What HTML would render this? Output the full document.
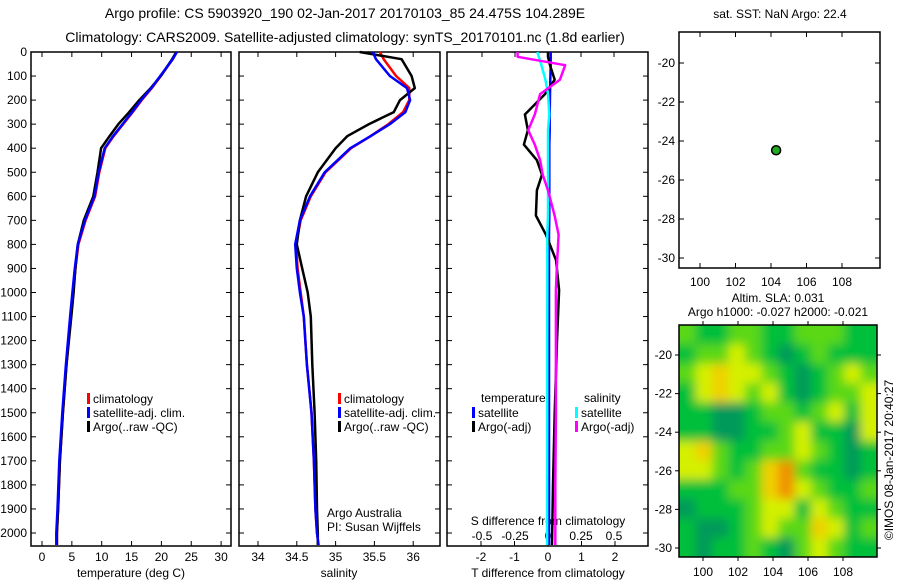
<!DOCTYPE html>
<html><head><meta charset="utf-8">
<style>
body{margin:0;background:#fff;}
svg text{font-family:"Liberation Sans",sans-serif;font-size:12px;fill:#000;}
</style></head>
<body>
<svg id="c" width="900" height="580" xmlns="http://www.w3.org/2000/svg">
<defs><filter id="bl" x="0" y="0" width="1" height="1"><feGaussianBlur stdDeviation="5"/></filter>
<clipPath id="mc"><rect x="679" y="325" width="198" height="232"/></clipPath></defs>
<text x="345" y="18" text-anchor="middle" style="font-size:14px">Argo profile: CS 5903920_190 02-Jan-2017 20170103_85 24.475S 104.289E</text>
<text x="345" y="42" text-anchor="middle" style="font-size:14px">Climatology: CARS2009. Satellite-adjusted climatology: synTS_20170101.nc (1.8d earlier)</text>
</svg>
<script>
const depth=[0,30,100,150,200,250,300,350,400,500,600,700,800,900,1000,1100,1300,1500,1700,1900,2000,2050];
const tempClim=[22.5,21.9,19.9,18.4,16.7,15.2,13.6,12.0,10.6,9.6,8.9,7.3,6.1,5.6,5.2,4.8,4.1,3.5,3.0,2.7,2.5,2.5];
const tempSat=[22.6,21.9,19.8,18.3,16.6,15.1,13.5,11.9,10.5,9.5,8.8,7.2,6.0,5.5,5.1,4.7,4.0,3.4,2.9,2.6,2.4,2.4];
const tempArgo=[22.5,21.8,19.9,18.2,16.3,14.6,12.8,11.3,9.9,9.3,8.6,7.0,6.0,5.6,5.3,4.9,4.1,3.5,3.0,2.7,2.5,2.5];
const salClim=[35.57,35.62,35.78,35.95,35.95,35.87,35.68,35.45,35.2,34.87,34.68,34.55,34.49,34.51,34.55,34.59,34.63,34.69,34.72,34.74,34.76,34.78];
const salSat=[35.48,35.52,35.7,35.92,35.96,35.9,35.7,35.45,35.19,34.86,34.67,34.54,34.48,34.5,34.54,34.59,34.63,34.69,34.72,34.74,34.76,34.78];
const salArgo=[35.31,35.85,35.98,36.02,35.83,35.75,35.43,35.15,35.0,34.77,34.62,34.54,34.5,34.57,34.64,34.68,34.7,34.73,34.75,34.76,34.77,34.77];
const diffDepth=[0,20,55,115,175,260,325,385,450,510,575,680,760,865,990,1200,1500,1800,2050];
const tDiffArgo=[0,0,0.06,0.2,-0.09,-0.69,-0.6,-0.72,-0.33,-0.18,-0.33,-0.36,-0.06,0.24,0.33,0.27,0.2,0.15,0.12];
const tDiffSat=[0.08,0.08,0.08,0.07,0.06,0.05,0.05,0.04,0.04,0.04,0.04,0.04,0.03,0.03,0.03,0.03,0.03,0.03,0.03];
const sDiffArgo=[-0.23,-0.23,0.13,0.09,-0.06,-0.1,-0.15,-0.1,-0.06,-0.04,0,0.05,0.08,0.07,0.06,0.06,0.06,0.055,0.055];
const sDiffSat=[-0.08,-0.07,-0.05,-0.02,0,0.01,0.0,0,0,0,0,0,-0.005,-0.005,-0.005,-0.006,-0.006,-0.007,-0.007];
const depthTicks=[0,100,200,300,400,500,600,700,800,900,1000,1100,1200,1300,1400,1500,1600,1700,1800,1900,2000];
const tempTicks=[0,5,10,15,20,25,30];
const salTicks=[34,34.5,35,35.5,36];
const tDiffTicks=[-2,-1,0,1,2];
const tDiffLabels=[-2,-1,0,1,2];
const sDiffTicks=[-0.5,-0.25,0,0.25,0.5];
const lonTicks=[100,102,104,106,108];
const latTicks=[-20,-22,-24,-26,-28,-30];
const argoLon=104.289, argoLat=-24.475;
const slaGrid=[
[1,0,0,1,1,0,0,1,1,1,0,0],
[0,1,1,2,1,0,-1,0,1,0,0,0],
[1,2,3,2,2,1,0,-1,0,1,2,1],
[0,2,3,2,1,2,0,-1,0,1,1,2],
[0,0,-1,-1,0,1,1,0,1,2,0,2],
[0,0,-1,-1,0,0,1,2,0,0,-1,2],
[2,3,1,0,0,1,1,2,1,0,-1,0],
[2,2,1,0,1,3,4,1,0,0,-1,0],
[0,0,0,1,1,3,4,2,1,0,0,1],
[-1,0,0,0,1,2,2,0,2,1,0,0],
[0,-1,-1,0,1,2,1,1,3,2,0,1],
[0,-1,0,0,1,0,-1,1,2,1,0,0]];
const svg=document.getElementById('c');
const NS='http://www.w3.org/2000/svg';
function el(t,a,p){const e=document.createElementNS(NS,t);for(const k in a)e.setAttribute(k,a[k]);(p||svg).appendChild(e);return e;}
function txt(x,y,s,anchor,p){const e=el('text',{x:x,y:y,'text-anchor':anchor||'start'},p);e.textContent=s;return e;}
const yD=d=>52+d*0.2405;
const xT=v=>42+v*5.97, xS=v=>258+(v-34)*77.6, xTd=v=>548+v*33.5, xSd=v=>548+v*132;
function frame(x,w,name){const r=el('rect',{x:x,y:52,width:w,height:494,fill:'none',stroke:'#000','stroke-width':1.5});}
function line(xs,ys,fx,col,w,name){const pts=xs.map((v,i)=>fx(v).toFixed(1)+','+yD(ys[i]).toFixed(1)).join(' ');const p=el('polyline',{points:pts,fill:'none',stroke:col,'stroke-width':w,'stroke-linejoin':'round'});}
depthTicks.forEach(d=>{const t=txt(27,yD(d)+4,String(d),'end');
[[31,231],[239,440],[447,648]].forEach(([a,b])=>{el('line',{x1:a,x2:a+5,y1:yD(d),y2:yD(d),stroke:'#000'});el('line',{x1:b,x2:b-5,y1:yD(d),y2:yD(d),stroke:'#000'});});});
frame(31,200,'temperature-panel');frame(239,201,'salinity-panel');frame(447,201,'difference-panel');
tempTicks.forEach(v=>{el('line',{x1:xT(v),x2:xT(v),y1:546,y2:541,stroke:'#000'});el('line',{x1:xT(v),x2:xT(v),y1:52,y2:57,stroke:'#000'});const t=txt(xT(v),561,String(v),'middle');});
salTicks.forEach(v=>{el('line',{x1:xS(v),x2:xS(v),y1:546,y2:541,stroke:'#000'});el('line',{x1:xS(v),x2:xS(v),y1:52,y2:57,stroke:'#000'});const t=txt(xS(v),561,String(v),'middle');});
tDiffTicks.forEach((v,i)=>{el('line',{x1:xTd(v),x2:xTd(v),y1:546,y2:541,stroke:'#000'});const t=txt(xTd(v),561,String(tDiffLabels[i]),'middle');});
sDiffTicks.forEach(v=>{el('line',{x1:xSd(v),x2:xSd(v),y1:52,y2:57,stroke:'#000'});const t=txt(xSd(v),540,String(v),'middle');});
let t;
t=txt(131,577,'temperature (deg C)','middle');
t=txt(339,577,'salinity','middle');
t=txt(548,577,'T difference from climatology','middle');
t=txt(548,525,'S difference from climatology','middle');
line(tempClim,depth,xT,'#f00',2.5,'temp-climatology-line');
line(tempArgo,depth,xT,'#000',2.5,'temp-argo-line');
line(tempSat,depth,xT,'#00f',2.5,'temp-satellite-line');
line(salClim,depth,xS,'#f00',2.5,'sal-climatology-line');
line(salArgo,depth,xS,'#000',2.5,'sal-argo-line');
line(salSat,depth,xS,'#00f',2.5,'sal-satellite-line');
line(tDiffSat,diffDepth,xTd,'#00f',2.5,'tdiff-satellite-line');
line(tDiffArgo,diffDepth,xTd,'#000',2.5,'tdiff-argo-line');
line(sDiffSat,diffDepth,xSd,'#0ff',2.5,'sdiff-satellite-line');
line(sDiffArgo,diffDepth,xSd,'#f0f',2.5,'sdiff-argo-line');
function leg(x,y,col,s,name){const g=el('g',{});el('rect',{x:x,y:y-10,width:3,height:11,fill:col},g);txt(x+6,y,s,'start',g);}
leg(87,403,'#f00','climatology','temp-legend-climatology');leg(87,417,'#00f','satellite-adj. clim.','temp-legend-satellite');leg(87,431,'#000','Argo(..raw -QC)','temp-legend-argo');
leg(338,403,'#f00','climatology','sal-legend-climatology');leg(338,417,'#00f','satellite-adj. clim.','sal-legend-satellite');leg(338,431,'#000','Argo(..raw -QC)','sal-legend-argo');
t=txt(481,402,'temperature');
t=txt(584,402,'salinity');
leg(472,417,'#00f','satellite','diff-legend-t-satellite');leg(472,431,'#000','Argo(-adj)','diff-legend-t-argo');
leg(575,417,'#0ff','satellite','diff-legend-s-satellite');leg(575,431,'#f0f','Argo(-adj)','diff-legend-s-argo');
t=txt(327,517,'Argo Australia');
t=txt(327,531,'PI: Susan Wijffels');
const xL1=v=>700+(v-100)*17.75, yL1=v=>63+(-20-v)*19.5;
const xL2=v=>703+(v-100)*17.5, yL2=v=>355+(-20-v)*19.3;
t=txt(780,18,'sat. SST: NaN Argo: 22.4','middle');
let r=el('rect',{x:679,y:32,width:201,height:236,fill:'none',stroke:'#000','stroke-width':1.5});
lonTicks.forEach(v=>{el('line',{x1:xL1(v),x2:xL1(v),y1:268,y2:263,stroke:'#000'});el('line',{x1:xL1(v),x2:xL1(v),y1:32,y2:37,stroke:'#000'});const q=txt(xL1(v),286,String(v),'middle');});
latTicks.forEach(v=>{el('line',{x1:679,x2:684,y1:yL1(v),y2:yL1(v),stroke:'#000'});el('line',{x1:880,x2:875,y1:yL1(v),y2:yL1(v),stroke:'#000'});const q=txt(675,yL1(v)+4,String(v),'end');});
let c=el('circle',{cx:xL1(argoLon),cy:yL1(argoLat),r:4.5,fill:'#2a2',stroke:'#000','stroke-width':1.5});
t=txt(778,302,'Altim. SLA: 0.031','middle');
t=txt(778,316,'Argo h1000: -0.027 h2000: -0.021','middle');
const cols={'-1':'#009a5a','0':'#00c03a','1':'#5ad818','2':'#d4f000','3':'#f0d000','4':'#f09000'};
const g=el('g',{'clip-path':'url(#mc)'});
const gi=el('g',{filter:'url(#bl)'},g);
el('rect',{x:660,y:305,width:240,height:270,fill:'#00c03a'},gi);
const cw=198/12, ch=232/12;
slaGrid.forEach((row,i)=>row.forEach((v,j)=>{const q=el('rect',{x:679+j*cw-(j==0?20:0),y:325+i*ch-(i==0?20:0),width:cw+1+(j==0||j==11?20:0),height:ch+1+(i==0||i==11?20:0),fill:cols[v]},gi);}));
r=el('rect',{x:679,y:325,width:198,height:232,fill:'none',stroke:'#000','stroke-width':1.5});
lonTicks.forEach(v=>{el('line',{x1:xL2(v),x2:xL2(v),y1:557,y2:561,stroke:'#000'});el('line',{x1:xL2(v),x2:xL2(v),y1:325,y2:321,stroke:'#000'});const q=txt(xL2(v),576,String(v),'middle');});
latTicks.forEach(v=>{el('line',{x1:675,x2:679,y1:yL2(v),y2:yL2(v),stroke:'#000'});el('line',{x1:877,x2:881,y1:yL2(v),y2:yL2(v),stroke:'#000'});const q=txt(672,yL2(v)+4,String(v),'end');});
t=txt(0,0,'©IMOS 08-Jan-2017 20:40:27','middle');t.setAttribute('transform','translate(893,460) rotate(-90)');
</script>
</body></html>
